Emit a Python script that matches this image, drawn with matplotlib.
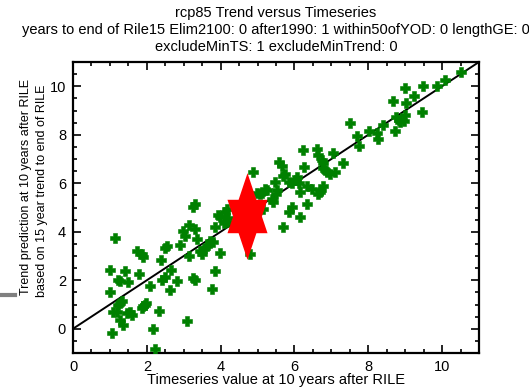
import matplotlib
matplotlib.use("Agg")
import matplotlib.pyplot as plt
from matplotlib.path import Path
from matplotlib.lines import Line2D
from matplotlib.ticker import MultipleLocator
import numpy as np

plt.rcParams['font.family'] = ['Liberation Sans', 'DejaVu Sans']

# ---- data ----
ts_x = [1.14, 3.13, 2.99, 3.31, 3.04, 3.35, 2.54, 2.49, 2.90, 1.73, 1.86, 1.91, 3.62, 3.44, 3.49,
        3.13, 2.38, 1.00, 1.41, 1.23, 1.27, 1.50, 1.80, 2.65, 2.40, 2.49, 2.81, 3.26, 3.31, 2.09,
        2.63, 1.00, 1.32, 1.27, 1.23, 1.09, 1.18, 1.46, 1.54, 1.59, 1.86, 1.95, 1.99, 1.91, 2.34,
        1.27, 1.36, 1.05, 2.16, 3.08, 2.22,
        3.76, 3.86, 3.98, 4.80,
        6.22, 5.59, 5.66, 6.26, 4.89, 5.75, 5.70, 6.06, 5.47, 5.84, 5.93, 6.33, 5.20, 5.25, 5.52,
        5.50, 6.15, 4.98, 5.07, 5.11, 5.38, 5.43, 5.16, 5.93, 5.84, 6.15, 5.70, 6.33, 4.17, 4.12,
        3.94, 3.98, 4.21, 4.08, 4.17, 3.85, 3.71, 3.80, 3.58,
        3.31, 3.26,
        8.66, 7.51, 8.39, 8.03, 8.23, 8.25, 8.73, 7.69, 7.76, 6.60, 6.65, 6.74, 6.78, 7.04, 7.31,
        6.77, 6.83, 6.88, 6.95, 7.10, 6.04, 6.11, 6.47, 6.77, 6.71, 6.68, 6.65,
        10.51, 10.08, 9.87, 9.48, 9.00, 9.24, 9.02, 9.45, 9.00, 8.97, 8.75, 8.82, 8.86]
trend_y = [3.76, 4.29, 4.04, 4.11, 3.83, 3.69, 3.42, 3.35, 3.46, 3.21, 3.07, 2.96, 3.42, 3.21, 3.07,
           3.00, 2.83, 2.44, 2.38, 2.03, 1.96, 1.93, 2.26, 2.44, 2.03, 2.13, 1.96, 2.10, 1.99, 1.75,
           1.58, 1.51, 1.13, 1.05, 0.99, 0.71, 0.71, 0.64, 0.71, 0.57, 0.85, 0.99, 1.05, 0.92, 0.75,
           0.36, 0.15, -0.19, -0.01, 0.32, -0.82,
           1.65, 2.40, 3.14, 3.07,
           7.38, 6.89, 6.71, 6.65, 6.47, 6.40, 6.29, 6.26, 6.05, 6.05, 5.99, 5.87, 5.78, 5.71, 5.71,
           5.57, 5.64, 5.60, 5.57, 5.60, 5.36, 5.22, 4.94, 5.01, 4.80, 4.60, 4.21, 5.15, 4.94, 4.80,
           4.71, 4.60, 4.57, 4.35, 4.39, 4.18, 3.62, 3.56, 3.35,
           5.15, 5.01,
           9.39, 8.49, 8.42, 8.14, 8.07, 7.82, 8.14, 7.93, 7.54, 7.40, 7.17, 6.96, 6.85, 7.26, 6.82,
           6.61, 6.54, 6.47, 6.38, 6.47, 6.13, 5.99, 5.78, 5.87, 5.74, 5.64, 5.54,
           10.57, 10.26, 9.99, 9.99, 9.94, 9.60, 9.32, 8.93, 8.83, 8.55, 8.72, 8.62, 8.53]

fit_slope = 1.0
fit_intercept = 0.0
fit_xrange = [0.0, 11.0]

star_x = [4.71]
star_y = [4.67]

x_limits = [0, 11]
y_limits = [-1, 11]
major_ticks = [0, 2, 4, 6, 8, 10]

title_lines = ["rcp85 Trend versus Timeseries",
               "years to end of Rile15 Elim2100: 0 after1990: 1 within50ofYOD: 0 lengthGE: 0",
               "excludeMinTS: 1 excludeMinTrend: 0"]
x_label = "Timeseries value at 10 years after RILE"
y_label_lines = ["Trend prediction at 10 years after RILE",
                 "based on 15 year trend to end of RILE"]

# ---- figure ----
W, H = 529, 390
fig = plt.figure(figsize=(W / 100, H / 100), dpi=100)
ax = fig.add_axes([73 / W, 1 - 353 / H, (479 - 73) / W, (353 - 62) / H])

green = '#008000'
ax.plot(ts_x, trend_y, linestyle='none', marker='P', markersize=7.2,
        color=green, markeredgewidth=0.4, markeredgecolor=green, zorder=3)

fx = np.array(fit_xrange)
ax.plot(fx, fit_slope * fx + fit_intercept, color='black', lw=1.4, zorder=2)

# hexagram (stretched) marker
hv = [(0, 43.3), (8.9, 16.7), (20, 16.7), (14.4, 0), (20, -16.7), (8.9, -16.7),
      (0, -43.3), (-8.9, -16.7), (-20, -16.7), (-14.4, 0), (-20, 16.7), (-8.9, 16.7), (0, 43.3)]
codes = [Path.MOVETO] + [Path.LINETO] * (len(hv) - 2) + [Path.CLOSEPOLY]
star_path = Path(hv, codes)
ax.plot(star_x, star_y, linestyle='none', marker=star_path, markersize=62.4,
        color='red', markeredgewidth=0, zorder=4)

ax.set_xlim(x_limits)
ax.set_ylim(y_limits)
ax.set_xticks(major_ticks)
ax.set_yticks(major_ticks)
ax.xaxis.set_minor_locator(MultipleLocator(0.5))
ax.yaxis.set_minor_locator(MultipleLocator(0.5))
ax.tick_params(which='both', direction='in', top=True, right=True, width=1.2, color='black')
ax.tick_params(which='major', length=6, labelsize=10.5, pad=5)
ax.tick_params(which='minor', length=3)
for s in ax.spines.values():
    s.set_linewidth(1.6)

fs = 10.5
fig.text(276 / W, 1 - 13 / H, title_lines[0], ha='center', va='center', fontsize=fs)
fig.text(276 / W, 1 - 30 / H, title_lines[1], ha='center', va='center', fontsize=fs)
fig.text(276 / W, 1 - 47 / H, title_lines[2], ha='center', va='center', fontsize=fs)

fig.text(276 / W, 1 - 380 / H, x_label, ha='center', va='center', fontsize=fs)
fys = 9.0
fig.text(26 / W, 1 - 187 / H, y_label_lines[0], ha='center', va='center', rotation=90, fontsize=fys)
fig.text(42 / W, 1 - 191 / H, y_label_lines[1], ha='center', va='center', rotation=90, fontsize=fys)

fig.add_artist(Line2D([0, 15 / W], [1 - 295 / H, 1 - 295 / H], color='#808080', lw=3))

fig.savefig('out.png', dpi=100)
